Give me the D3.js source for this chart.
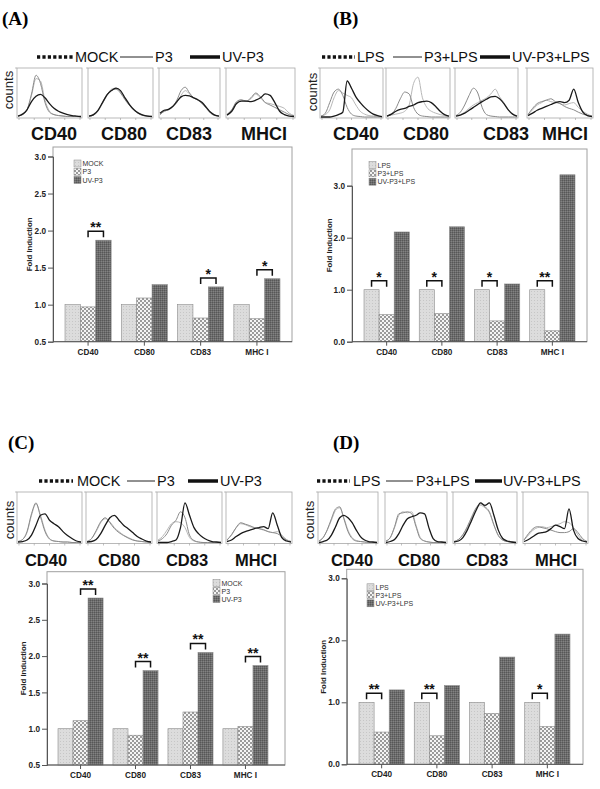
<!DOCTYPE html>
<html><head><meta charset="utf-8">
<script src="https://cdn.jsdelivr.net/npm/d3@7"></script>
<style>body{margin:0;background:#fff;} svg{display:block;font-family:Arial,"Liberation Sans",sans-serif;}</style>
</head><body><svg id="c" width="600" height="789"></svg>
<script>
// ---------------- DATA ----------------
const markers = ["CD40", "CD80", "CD83", "MHCI"];
const categories = ["CD40", "CD80", "CD83", "MHC I"];
const seriesMock = ["MOCK", "P3", "UV-P3"];
const seriesLps = ["LPS", "P3+LPS", "UV-P3+LPS"];
const yTicksHalf = [0.5, 1.0, 1.5, 2.0, 2.5, 3.0];
const yTicksWhole = [0.0, 1.0, 2.0, 3.0];

// (A) fold induction
const aMock = [1.0, 1.0, 1.0, 1.0];
const aP3   = [0.97, 1.09, 0.82, 0.81];
const aUV   = [1.87, 1.27, 1.24, 1.35];
const aStars = ["**", "", "*", "*"];
// (B)
const bLps  = [1.0, 1.0, 1.0, 1.0];
const bP3   = [0.52, 0.54, 0.40, 0.21];
const bUV   = [2.11, 2.21, 1.11, 3.21];
const bStars = ["*", "*", "*", "**"];
// (C)
const cMock = [1.0, 1.0, 1.0, 1.0];
const cP3   = [1.11, 0.91, 1.23, 1.03];
const cUV   = [2.80, 1.80, 2.05, 1.87];
const cStars = ["**", "**", "**", "**"];
// (D)
const dLps  = [1.0, 1.0, 1.0, 1.0];
const dP3   = [0.52, 0.46, 0.82, 0.61];
const dUV   = [1.20, 1.27, 1.73, 2.10];
const dStars = ["**", "**", "", "*"];

// flow-cytometry histograms (relative counts), per marker: [mock/LPS, P3, UV-P3]
const histA = [
  [[0.02,0.05,0.15,0.45,0.80,0.75,0.35,0.12,0.05,0.03,0.02,0.01,0.01,0.01,0.0],
   [0.02,0.05,0.15,0.48,0.87,0.70,0.30,0.10,0.05,0.03,0.02,0.01,0.01,0.01,0.0],
   [0.02,0.06,0.15,0.32,0.43,0.47,0.40,0.28,0.18,0.12,0.08,0.05,0.03,0.02,0.01]],
  [[0.02,0.04,0.12,0.28,0.45,0.58,0.60,0.52,0.38,0.25,0.15,0.08,0.04,0.02,0.01],
   [0.02,0.04,0.13,0.30,0.47,0.56,0.58,0.50,0.36,0.24,0.14,0.07,0.03,0.02,0.01],
   [0.02,0.05,0.14,0.30,0.46,0.55,0.60,0.55,0.40,0.26,0.15,0.08,0.04,0.02,0.01]],
  [[0.05,0.12,0.15,0.20,0.30,0.45,0.55,0.48,0.40,0.35,0.28,0.20,0.10,0.04,0.02],
   [0.05,0.12,0.15,0.22,0.35,0.55,0.62,0.50,0.40,0.35,0.28,0.18,0.08,0.03,0.02],
   [0.08,0.14,0.16,0.22,0.32,0.42,0.45,0.44,0.40,0.36,0.30,0.20,0.10,0.04,0.02]],
  [[0.05,0.15,0.30,0.35,0.33,0.38,0.48,0.40,0.30,0.28,0.25,0.22,0.18,0.08,0.03],
   [0.05,0.15,0.32,0.36,0.33,0.40,0.50,0.42,0.30,0.25,0.20,0.15,0.10,0.05,0.02],
   [0.04,0.12,0.28,0.33,0.33,0.32,0.35,0.40,0.48,0.45,0.30,0.12,0.05,0.02,0.01]]
];
const histB = [
  [[0.02,0.05,0.15,0.40,0.55,0.50,0.45,0.40,0.25,0.12,0.06,0.03,0.02,0.01,0.0],
   [0.02,0.08,0.30,0.52,0.58,0.45,0.20,0.06,0.02,0.01,0.0,0.0,0.0,0.0,0.0],
   [0.0,0.0,0.0,0.02,0.05,0.10,0.75,0.60,0.42,0.30,0.20,0.12,0.06,0.03,0.01]],
  [[0.02,0.04,0.06,0.08,0.12,0.25,0.70,0.83,0.40,0.20,0.12,0.08,0.05,0.03,0.01],
   [0.02,0.06,0.18,0.38,0.52,0.48,0.20,0.06,0.02,0.01,0.0,0.0,0.0,0.0,0.0],
   [0.02,0.06,0.12,0.16,0.18,0.22,0.25,0.30,0.32,0.33,0.30,0.22,0.12,0.05,0.02]],
  [[0.02,0.05,0.10,0.18,0.25,0.30,0.35,0.40,0.48,0.58,0.42,0.30,0.15,0.05,0.02],
   [0.03,0.10,0.25,0.45,0.60,0.50,0.20,0.05,0.02,0.01,0.0,0.0,0.0,0.0,0.0],
   [0.02,0.04,0.08,0.14,0.20,0.26,0.32,0.37,0.42,0.43,0.38,0.28,0.15,0.06,0.02]],
  [[0.05,0.15,0.25,0.30,0.35,0.32,0.30,0.28,0.25,0.28,0.30,0.20,0.12,0.06,0.02],
   [0.05,0.18,0.28,0.32,0.35,0.38,0.32,0.28,0.22,0.18,0.15,0.10,0.06,0.03,0.01],
   [0.03,0.08,0.14,0.18,0.22,0.26,0.30,0.32,0.30,0.35,0.58,0.30,0.10,0.03,0.01]]
];
const histC = [
  [[0.02,0.06,0.20,0.55,0.78,0.55,0.25,0.08,0.03,0.02,0.01,0.01,0.0,0.0,0.0],
   [0.02,0.06,0.22,0.58,0.80,0.52,0.22,0.07,0.03,0.02,0.01,0.01,0.0,0.0,0.0],
   [0.01,0.02,0.05,0.15,0.35,0.55,0.58,0.45,0.38,0.32,0.22,0.14,0.08,0.03,0.01]],
  [[0.02,0.08,0.22,0.40,0.48,0.42,0.30,0.22,0.15,0.10,0.06,0.03,0.02,0.01,0.0],
   [0.02,0.08,0.24,0.42,0.50,0.40,0.28,0.20,0.14,0.09,0.05,0.03,0.02,0.01,0.0],
   [0.01,0.02,0.06,0.18,0.35,0.50,0.55,0.45,0.35,0.28,0.20,0.12,0.07,0.03,0.01]],
  [[0.05,0.12,0.25,0.38,0.42,0.40,0.30,0.10,0.03,0.01,0.0,0.0,0.0,0.0,0.0],
   [0.03,0.08,0.18,0.35,0.45,0.62,0.50,0.15,0.04,0.01,0.0,0.0,0.0,0.0,0.0],
   [0.0,0.0,0.0,0.02,0.05,0.30,0.80,0.55,0.30,0.18,0.10,0.05,0.02,0.01,0.0]],
  [[0.05,0.15,0.30,0.38,0.36,0.32,0.30,0.28,0.25,0.22,0.20,0.22,0.15,0.06,0.02],
   [0.05,0.16,0.30,0.40,0.37,0.34,0.30,0.28,0.26,0.22,0.20,0.18,0.12,0.05,0.02],
   [0.02,0.05,0.12,0.18,0.22,0.25,0.28,0.30,0.32,0.28,0.60,0.35,0.10,0.03,0.01]]
];
const histD = [
  [[0.03,0.10,0.25,0.45,0.65,0.70,0.50,0.25,0.10,0.04,0.02,0.01,0.0,0.0,0.0],
   [0.03,0.10,0.26,0.48,0.68,0.72,0.48,0.22,0.08,0.03,0.02,0.01,0.0,0.0,0.0],
   [0.0,0.02,0.05,0.15,0.32,0.50,0.55,0.50,0.40,0.25,0.12,0.05,0.02,0.01,0.0]],
  [[0.03,0.10,0.30,0.55,0.62,0.60,0.62,0.35,0.10,0.03,0.01,0.0,0.0,0.0,0.0],
   [0.03,0.10,0.32,0.58,0.60,0.62,0.58,0.32,0.08,0.03,0.01,0.0,0.0,0.0,0.0],
   [0.0,0.02,0.06,0.18,0.35,0.48,0.52,0.55,0.60,0.58,0.30,0.08,0.02,0.01,0.0]],
  [[0.02,0.06,0.15,0.30,0.50,0.68,0.75,0.70,0.60,0.35,0.15,0.05,0.02,0.01,0.0],
   [0.02,0.06,0.16,0.32,0.52,0.70,0.78,0.72,0.62,0.36,0.14,0.05,0.02,0.01,0.0],
   [0.01,0.03,0.10,0.25,0.45,0.65,0.80,0.75,0.80,0.55,0.25,0.08,0.03,0.01,0.0]],
  [[0.05,0.15,0.25,0.30,0.32,0.30,0.32,0.35,0.38,0.42,0.40,0.30,0.15,0.05,0.02],
   [0.05,0.18,0.28,0.32,0.30,0.28,0.25,0.22,0.20,0.20,0.22,0.28,0.20,0.08,0.02],
   [0.02,0.06,0.12,0.18,0.20,0.22,0.28,0.35,0.32,0.28,0.68,0.25,0.08,0.03,0.01]]
];

// ---------------- LAYOUT ----------------
const panels = [
  { tag: "(A)", tagX: 2, tagY: 25, series: seriesMock, values: [aMock, aP3, aUV], stars: aStars, pair: [1, 2],
    ticks: yTicksHalf, dom: [0.5, 3.0], hist: histA,
    leg: { y: 57, dot: [37, 73], t1: 75, thin: [120, 153], t2: 155, thick: [190, 220], t3: 222 },
    H: { top: 68, bot: 118, boxes: [[17, 82], [88, 153], [159, 220], [226, 295]], countsX: 9, countsY: 90, labY: 140, labX: [54, 124, 189, 264], labSize: 18 },
    P: { l: 53, r: 292, t: 147, b: 341.7, y1: 156.5, bx: [65, 280], legX: 74, legY: [163.5, 171.7, 180], ylabX: 29, xlabY: 354.5 } },
  { tag: "(B)", tagX: 333, tagY: 25, series: seriesLps, values: [bLps, bP3, bUV], stars: bStars, pair: [0, 1],
    ticks: yTicksWhole, dom: [0, 3.0], hist: histB,
    leg: { y: 57, dot: [322, 355], t1: 357, thin: [393, 422], t2: 424, thick: [480, 510], t3: 512 },
    H: { top: 68, bot: 118, boxes: [[320, 383], [386, 450], [455, 518], [527, 593]], countsX: 313, countsY: 92, labY: 140, labX: [356, 426, 506, 565], labSize: 18 },
    P: { l: 352, r: 587, t: 149, b: 341.7, y1: 185.7, bx: [364, 575], legX: 369, legY: [165, 173.3, 181.7], ylabX: 329, xlabY: 354.5 } },
  { tag: "(C)", tagX: 8, tagY: 449, series: seriesMock, values: [cMock, cP3, cUV], stars: cStars, pair: [1, 2],
    ticks: yTicksHalf, dom: [0.5, 3.0], hist: histC,
    leg: { y: 481, dot: [39, 73], t1: 77, thin: [127, 155], t2: 157, thick: [188, 218], t3: 220 },
    H: { top: 492, bot: 543.5, boxes: [[17, 82], [86, 152], [157, 222], [226, 292]], countsX: 10, countsY: 520, labY: 566, labX: [46, 119, 187, 256], labSize: 16.5 },
    P: { l: 47, r: 285, t: 571.7, b: 765, y1: 583.5, bx: [58, 268], legX: 213, legY: [583, 591, 599], ylabX: 23, xlabY: 778 } },
  { tag: "(D)", tagX: 333, tagY: 449, series: seriesLps, values: [dLps, dP3, dUV], stars: dStars, pair: [0, 1],
    ticks: yTicksWhole, dom: [0, 3.0], hist: histD,
    leg: { y: 481, dot: [317, 350], t1: 353, thin: [386, 413], t2: 416, thick: [475, 502], t3: 503 },
    H: { top: 492, bot: 543.5, boxes: [[318, 378], [385, 447], [453, 517], [523, 588]], countsX: 310, countsY: 520, labY: 566, labX: [352, 419, 487, 556], labSize: 16.5 },
    P: { l: 346.7, r: 583, t: 569.3, b: 764.3, y1: 578.3, bx: [359, 570], legX: 367, legY: [587.3, 595, 603.3], ylabX: 323, xlabY: 778 } }
];

// ---------------- DRAW ----------------
const svg = d3.select("#c");
const defs = svg.append("defs");
const pL = defs.append("pattern").attr("id", "pLight").attr("patternUnits", "userSpaceOnUse").attr("width", 3).attr("height", 3);
pL.append("rect").attr("width", 3).attr("height", 3).attr("fill", "#dcdcdc");
pL.append("rect").attr("width", 1).attr("height", 1).attr("fill", "#c6c6c6");
const pC = defs.append("pattern").attr("id", "pCheck").attr("patternUnits", "userSpaceOnUse").attr("width", 4).attr("height", 4);
pC.append("rect").attr("width", 4).attr("height", 4).attr("fill", "#f4f4f4");
pC.append("rect").attr("width", 2).attr("height", 2).attr("fill", "#9a9a9a");
pC.append("rect").attr("x", 2).attr("y", 2).attr("width", 2).attr("height", 2).attr("fill", "#9a9a9a");
const pD = defs.append("pattern").attr("id", "pDark").attr("patternUnits", "userSpaceOnUse").attr("width", 2).attr("height", 2);
pD.append("rect").attr("width", 2).attr("height", 2).attr("fill", "#6c6c6c");
pD.append("rect").attr("width", 1).attr("height", 1).attr("fill", "#575757");
pD.append("rect").attr("x", 1).attr("y", 1).attr("width", 1).attr("height", 1).attr("fill", "#828282");
const fills = ["url(#pLight)", "url(#pCheck)", "url(#pDark)"];

const histStyles = [{ c: "#b8b8b8", w: 1 }, { c: "#8a8a8a", w: 1 }, { c: "#1a1a1a", w: 1.3 }];

panels.forEach(p => {
  const g = svg.append("g");
  g.append("text").attr("x", p.tagX).attr("y", p.tagY).text(p.tag)
    .attr("font-family", "'Liberation Serif','Times New Roman',serif").attr("font-weight", "bold").attr("font-size", 19);

  const L = p.leg;
  g.append("line").attr("x1", L.dot[0]).attr("x2", L.dot[1]).attr("y1", L.y).attr("y2", L.y)
    .attr("stroke", "#111").attr("stroke-width", 3.5).attr("stroke-dasharray", "3.2,2.2");
  g.append("line").attr("x1", L.thin[0]).attr("x2", L.thin[1]).attr("y1", L.y).attr("y2", L.y)
    .attr("stroke", "#222").attr("stroke-width", 1);
  g.append("line").attr("x1", L.thick[0]).attr("x2", L.thick[1]).attr("y1", L.y).attr("y2", L.y)
    .attr("stroke", "#111").attr("stroke-width", 3.5);
  [L.t1, L.t2, L.t3].forEach((tx, i) => {
    g.append("text").attr("x", tx).attr("y", L.y + 5).attr("font-size", 14.5).attr("fill", "#111").text(p.series[i]);
  });

  const H = p.H;
  H.boxes.forEach((bx, i) => {
    const hx = d3.scaleLinear().domain([0, 14]).range([bx[0] + 1, bx[1] - 1]);
    const hy = d3.scaleLinear().domain([0, 1]).range([H.bot - 1, H.top + 1]);
    g.append("rect").attr("x", bx[0]).attr("y", H.top).attr("width", bx[1] - bx[0]).attr("height", H.bot - H.top)
      .attr("fill", "#fff").attr("stroke", "#a8a8a8").attr("stroke-width", 0.8);
    d3.range(0, 5).forEach(k => {
      const tx = bx[0] + 2 + k * (bx[1] - bx[0] - 4) / 4;
      g.append("line").attr("x1", tx).attr("x2", tx).attr("y1", H.bot).attr("y2", H.bot + 2).attr("stroke", "#999").attr("stroke-width", 0.6);
    });
    g.append("line").attr("x1", bx[0] - 2).attr("x2", bx[0]).attr("y1", H.top).attr("y2", H.top).attr("stroke", "#999").attr("stroke-width", 0.6);
    const line = d3.line().x((d, j) => hx(j)).y(d => hy(d)).curve(d3.curveMonotoneX);
    p.hist[i].forEach((arr, k) => {
      g.append("path").attr("d", line(arr)).attr("fill", "none")
        .attr("stroke", histStyles[k].c).attr("stroke-width", histStyles[k].w);
    });
    g.append("text").attr("x", H.labX[i]).attr("y", H.labY).attr("text-anchor", "middle")
      .attr("font-weight", "bold").attr("font-size", H.labSize).attr("fill", "#111").text(markers[i]);
  });
  g.append("text").attr("transform", `translate(${H.countsX + 4},${H.countsY}) rotate(-90)`)
    .attr("text-anchor", "middle").attr("font-size", 13).attr("fill", "#222").text("counts");

  const P = p.P;
  const y = d3.scaleLinear().domain(p.dom).range([P.b, P.y1]);
  const x0 = d3.scaleBand().domain(categories).range(P.bx).paddingInner(0.18).paddingOuter(0);
  const x1 = d3.scaleBand().domain(p.series).range([0, x0.bandwidth()]);

  g.append("rect").attr("x", P.l).attr("y", P.t).attr("width", P.r - P.l).attr("height", P.b - P.t)
    .attr("fill", "#fff").attr("stroke", "#a0a0a0").attr("stroke-width", 1);

  categories.forEach((c, i) => {
    p.series.forEach((s, k) => {
      const v = p.values[k][i];
      g.append("rect").attr("x", x0(c) + x1(s)).attr("y", y(v)).attr("width", x1.bandwidth())
        .attr("height", y(p.dom[0]) - y(v)).attr("fill", fills[k]).attr("stroke", "#8a8a8a").attr("stroke-width", 0.6);
    });
  });

  const yAxis = d3.axisLeft(y).tickValues(p.ticks).tickFormat(d3.format(".1f")).tickSize(5).tickPadding(2);
  const ga = g.append("g").attr("transform", `translate(${P.l},0)`).call(yAxis);
  ga.select(".domain").attr("stroke", "#555");
  ga.selectAll(".tick line").attr("stroke", "#555");
  ga.selectAll("text").attr("font-size", 8.2).attr("font-weight", "bold").attr("fill", "#222").attr("font-family", "Arial,'Liberation Sans',sans-serif");

  const xAxis = d3.axisBottom(x0).tickSize(4).tickPadding(3);
  const gx = g.append("g").attr("transform", `translate(0,${P.b})`).call(xAxis);
  gx.select(".domain").remove();
  gx.selectAll(".tick line").attr("stroke", "#555");
  gx.selectAll("text").attr("font-size", 8.2).attr("font-weight", "bold").attr("fill", "#222").attr("font-family", "Arial,'Liberation Sans',sans-serif");
  g.append("line").attr("x1", P.l).attr("x2", P.r).attr("y1", P.b).attr("y2", P.b).attr("stroke", "#555");

  g.append("text").attr("transform", `translate(${P.ylabX + 3},${(P.t + P.b) / 2}) rotate(-90)`)
    .attr("text-anchor", "middle").attr("font-size", 7.8).attr("font-weight", "bold").attr("fill", "#222").text("Fold Induction");

  p.series.forEach((s, k) => {
    g.append("rect").attr("x", P.legX).attr("y", P.legY[k] - 3.5).attr("width", 7).attr("height", 7)
      .attr("fill", fills[k]).attr("stroke", "#888").attr("stroke-width", 0.5);
    g.append("text").attr("x", P.legX + 8.5).attr("y", P.legY[k] + 2.6).attr("font-size", 7).attr("fill", "#333").text(s);
  });

  categories.forEach((c, i) => {
    const st = p.stars[i];
    if (!st) return;
    const [a, b] = p.pair;
    const xa = x0(c) + x1(p.series[a]) + x1.bandwidth() / 2;
    const xb = x0(c) + x1(p.series[b]) + x1.bandwidth() / 2;
    const top = Math.min(y(p.values[a][i]), y(p.values[b][i]));
    const by = top - 9;
    g.append("path").attr("d", `M${xa},${by + 6}V${by}H${xb}V${by + 6}`)
      .attr("fill", "none").attr("stroke", "#111").attr("stroke-width", 1.5);
    g.append("text").attr("x", (xa + xb) / 2).attr("y", by + 1).attr("text-anchor", "middle")
      .attr("font-size", 14).attr("font-weight", "bold").attr("fill", "#111").text(st);
  });
});
</script>
</body></html>
